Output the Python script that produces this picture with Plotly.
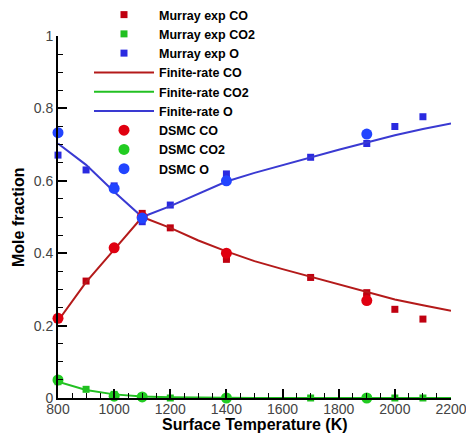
import plotly.graph_objects as go

# Murray experimental data (squares)
murray_T_co = [800, 900, 1000, 1100, 1200, 1400, 1400, 1700, 1900, 1900, 2000, 2100]
murray_co = [0.221, 0.323, 0.415, 0.51, 0.47, 0.39, 0.383, 0.333, 0.291, 0.28, 0.245, 0.218]
murray_T_co2 = [800, 900, 1000, 1100, 1200, 1400, 1700, 1900, 2000, 2100]
murray_co2 = [0.045, 0.024, 0.01, 0.003, 0.0, 0.0, 0.0, 0.0, 0.0, 0.0]
murray_T_o = [800, 900, 1000, 1100, 1200, 1400, 1400, 1700, 1900, 2000, 2100]
murray_o = [0.671, 0.63, 0.586, 0.487, 0.533, 0.619, 0.605, 0.665, 0.703, 0.75, 0.777]

# Finite-rate model (lines)
fr_T = [800, 900, 1000, 1100, 1200, 1300, 1400, 1500, 1600, 1700, 1800, 1900, 2000, 2100, 2200]
fr_co = [0.213, 0.32, 0.41, 0.50, 0.47, 0.435, 0.405, 0.378, 0.356, 0.335, 0.312, 0.292, 0.272, 0.256, 0.241]
fr_co2 = [0.045, 0.022, 0.01, 0.004, 0.002, 0.001, 0.0005, 0.0003, 0.0002, 0.0001, 0.0, 0.0, 0.0, 0.0, 0.0]
fr_o = [0.703, 0.644, 0.57, 0.50, 0.53, 0.565, 0.598, 0.622, 0.644, 0.665, 0.686, 0.706, 0.726, 0.743, 0.758]

# DSMC (circles)
dsmc_T = [800, 1000, 1100, 1400, 1900]
dsmc_co = [0.22, 0.415, 0.50, 0.40, 0.269]
dsmc_co2 = [0.05, 0.005, 0.003, 0.0, 0.0]
dsmc_o = [0.733, 0.579, 0.497, 0.60, 0.729]

RED_SQ, GREEN_SQ, BLUE_SQ = "#c00010", "#20c020", "#2a2ae0"
RED_LN, GREEN_LN, BLUE_LN = "#b41a1a", "#22c022", "#3a3ad2"
RED_C, GREEN_C, BLUE_C = "#e00010", "#22cc22", "#2244ff"

FONT = "Liberation Sans, Arial"

fig = go.Figure()
sq = dict(symbol="square", size=7)
for name, xs, ys, c in [("Murray exp CO", murray_T_co, murray_co, RED_SQ),
                        ("Murray exp CO2", murray_T_co2, murray_co2, GREEN_SQ),
                        ("Murray exp O", murray_T_o, murray_o, BLUE_SQ)]:
    fig.add_trace(go.Scatter(x=xs, y=ys, mode="markers", name=name,
                             marker=dict(color=c, **sq), cliponaxis=False))
for name, ys, c in [("Finite-rate CO", fr_co, RED_LN),
                    ("Finite-rate CO2", fr_co2, GREEN_LN),
                    ("Finite-rate O", fr_o, BLUE_LN)]:
    fig.add_trace(go.Scatter(x=fr_T, y=ys, mode="lines", name=name,
                             line=dict(color=c, width=2), cliponaxis=False))
for name, ys, c in [("DSMC CO", dsmc_co, RED_C),
                    ("DSMC CO2", dsmc_co2, GREEN_C),
                    ("DSMC O", dsmc_o, BLUE_C)]:
    fig.add_trace(go.Scatter(x=dsmc_T, y=ys, mode="markers", name=name,
                             marker=dict(color=c, size=11, symbol="circle"),
                             cliponaxis=False))

axis_common = dict(showline=True, linecolor="black", linewidth=2,
                   ticks="inside", ticklen=9, tickwidth=1.5, tickcolor="black",
                   showgrid=False, zeroline=False, mirror=False, automargin=False,
                   ticklabeloverflow="allow",
                   tickfont=dict(family=FONT, size=14, color="#444444"))

fig.update_xaxes(range=[800, 2200], dtick=200, tick0=800, ticklabelstandoff=-3,
                 minor=dict(dtick=50, ticks="inside", ticklen=5, tickcolor="black", tickwidth=1),
                 **axis_common)
fig.update_yaxes(range=[0, 1], dtick=0.2, tick0=0,
                 tickvals=[0, 0.2, 0.4, 0.6, 0.8, 1],
                 ticktext=["0", "0.2", "0.4", "0.6", "0.8", "1"],
                 minor=dict(dtick=0.05, ticks="inside", ticklen=5, tickcolor="black", tickwidth=1),
                 **axis_common)

title_font = dict(family=FONT, size=16, color="black", weight="bold")
fig.add_annotation(text="Surface Temperature (K)", xref="paper", yref="paper",
                   x=0.5, y=-26 / 362, xanchor="center", yanchor="middle",
                   showarrow=False, font=title_font)
fig.add_annotation(text="Mole fraction", xref="paper", yref="paper",
                   x=-40 / 393, y=0.5, xanchor="center", yanchor="middle",
                   textangle=-90, showarrow=False, font=title_font)

fig.update_layout(
    width=466, height=433,
    margin=dict(l=58, r=15, t=36, b=35, autoexpand=False),
    plot_bgcolor="white", paper_bgcolor="white",
    legend=dict(xref="container", yref="container", x=89 / 466, y=1.0,
                xanchor="left", yanchor="top",
                bgcolor="rgba(0,0,0,0)", itemwidth=60, tracegroupgap=0,
                font=dict(family=FONT, size=12.5, color="black", weight="bold")),
)

fig.write_html("out.html")
